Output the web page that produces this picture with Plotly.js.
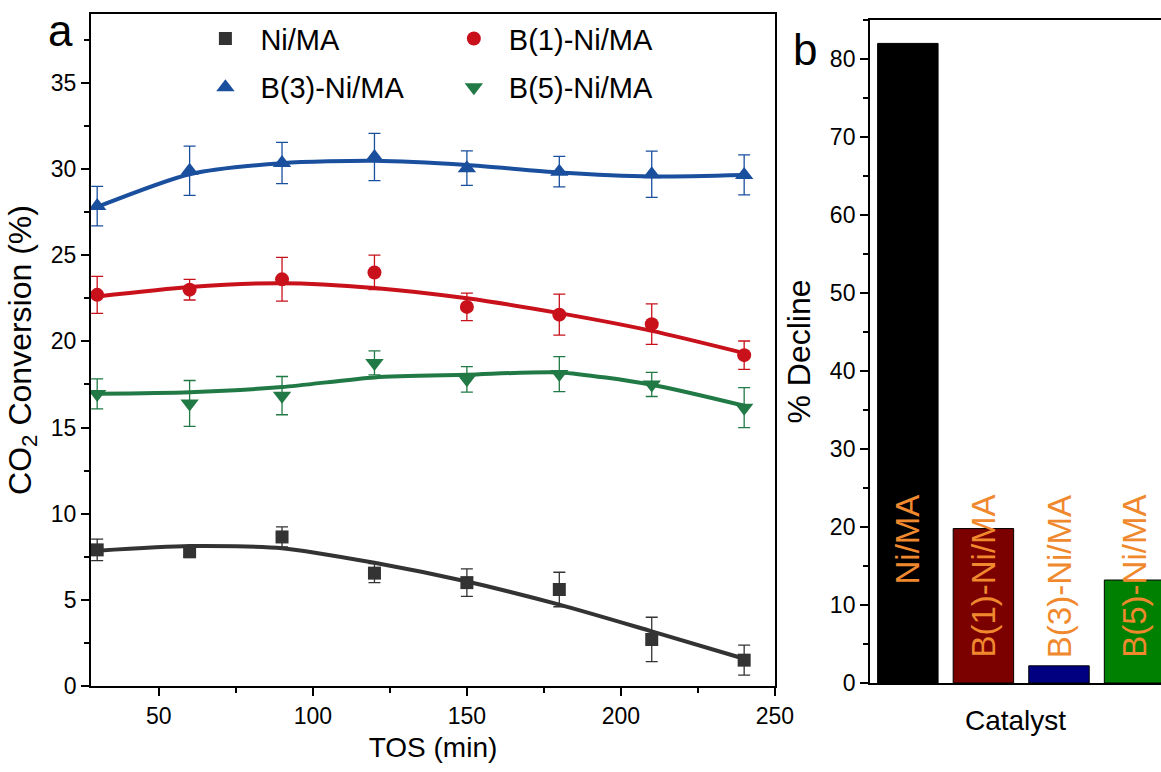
<!DOCTYPE html>
<html><head><meta charset="utf-8">
<script src="https://cdn.plot.ly/plotly-3.0.1.min.js"></script>
<style>html,body{margin:0;padding:0;background:#fff}#chart{width:1161px;height:772px}</style>
</head><body><div id="chart"></div>
<script>
// ---- Panel a data ----
const tos = [30, 60, 90, 120, 150, 180, 210, 240];
const niMA = [7.9, 7.8, 8.65, 6.55, 6.0, 5.6, 2.7, 1.5];
const niMAErr = [0.62, 0.35, 0.58, 0.55, 0.8, 1.0, 1.29, 0.87];
const niMAFit = [7.85, 8.12, 8.0, 7.15, 6.06, 4.72, 3.17, 1.58];
const b1 = [22.7, 23.0, 23.6, 24.0, 22.0, 21.55, 21.0, 19.2];
const b1Err = [1.07, 0.6, 1.27, 1.0, 0.8, 1.19, 1.18, 0.82];
const b1Fit = [22.6, 23.15, 23.38, 23.1, 22.5, 21.64, 20.61, 19.32];
const b3 = [27.85, 29.9, 30.35, 30.7, 30.05, 29.85, 29.7, 29.66];
const b3Err = [1.15, 1.43, 1.2, 1.37, 1.0, 0.89, 1.34, 1.16];
const b3Fit = [27.8, 29.7, 30.34, 30.48, 30.24, 29.8, 29.57, 29.66];
const b5 = [16.95, 16.4, 16.85, 18.75, 17.8, 18.1, 17.5, 16.15];
const b5Err = [0.87, 1.33, 1.11, 0.7, 0.74, 1.02, 0.7, 1.16];
const b5Fit = [16.96, 17.05, 17.35, 17.91, 18.06, 18.2, 17.48, 16.26];
const seriesNames = ['Ni/MA', 'B(1)-Ni/MA', 'B(3)-Ni/MA', 'B(5)-Ni/MA'];

// ---- Panel b data ----
const catalysts = ['Ni/MA', 'B(1)-Ni/MA', 'B(3)-Ni/MA', 'B(5)-Ni/MA'];
const decline = [82.0, 19.8, 2.2, 13.2];
const labelTop = 24.4;

const FONT = 'Arial, "Liberation Sans", sans-serif';
const cBlack = '#333333', cRed = '#c8111b', cBlue = '#1a4f9e', cGreen = '#217a45';

function fitTrace(y, color) {
  return {x: tos, y: y, mode: 'lines', line: {color: color, width: 4, shape: 'spline', smoothing: 0.7},
          showlegend: false, hoverinfo: 'skip', xaxis: 'x', yaxis: 'y'};
}
function ptTrace(name, y, err, color, symbol, size, legend) {
  return {x: tos, y: y, name: name, mode: 'markers', legend: legend, legendgroup: name,
          marker: {color: color, symbol: symbol, size: size},
          error_y: {type: 'data', array: err, visible: true, color: color, thickness: 1.3, width: 6},
          xaxis: 'x', yaxis: 'y'};
}

const traces = [
  fitTrace(niMAFit, cBlack), fitTrace(b1Fit, cRed), fitTrace(b3Fit, cBlue), fitTrace(b5Fit, cGreen),
  ptTrace(seriesNames[0], niMA, niMAErr, cBlack, 'square', 13, 'legend'),
  ptTrace(seriesNames[2], b3, b3Err, cBlue, 'triangle-up', 16, 'legend'),
  ptTrace(seriesNames[1], b1, b1Err, cRed, 'circle', 14, 'legend2'),
  ptTrace(seriesNames[3], b5, b5Err, cGreen, 'triangle-down', 16, 'legend2'),
  {type: 'bar', x: catalysts, y: decline, width: 0.8, xaxis: 'x2', yaxis: 'y2', showlegend: false,
   marker: {color: ['#000000', '#7b0000', '#000080', '#008000'], line: {color: '#000', width: 1}}}
];

const annotations = catalysts.map(c => ({
  x: c, y: labelTop, xref: 'x2', yref: 'y2', text: c, textangle: -90, showarrow: false,
  xanchor: 'center', yanchor: 'top', font: {family: FONT, size: 33, color: '#f0892e'}
}));
annotations.push({x: 0.040, y: 0.995, xref: 'paper', yref: 'paper', text: 'a', showarrow: false,
  xanchor: 'left', yanchor: 'top', font: {family: FONT, size: 44, color: '#000'}});
annotations.push({x: 0.681, y: 0.97, xref: 'paper', yref: 'paper', text: 'b', showarrow: false,
  xanchor: 'left', yanchor: 'top', font: {family: FONT, size: 44, color: '#000'}});

const axBase = {showline: true, linecolor: '#000', linewidth: 2, ticks: 'outside', tickcolor: '#000',
  tickwidth: 2, showgrid: false, zeroline: false, automargin: false,
  tickfont: {family: FONT, size: 23, color: '#000'}};

const legBase = {yanchor: 'top', xanchor: 'left', bgcolor: 'rgba(0,0,0,0)',
  font: {family: FONT, size: 29, color: '#000'}, itemwidth: 60, tracegroupgap: 8};

const layout = {
  width: 1161, height: 772, margin: {l: 0, r: 0, t: 0, b: 0},
  paper_bgcolor: '#fff', plot_bgcolor: '#fff', font: {family: FONT, color: '#000'},
  xaxis: Object.assign({}, axBase, {domain: [0.0784, 0.6675], range: [28, 250], mirror: true,
    dtick: 50, ticklen: 8, minor: {dtick: 25, ticks: 'outside', ticklen: 5, tickcolor: '#000', tickwidth: 2},
    title: {text: 'TOS (min)', font: {family: FONT, size: 28}, standoff: 10}, anchor: 'y'}),
  yaxis: Object.assign({}, axBase, {domain: [0.1114, 0.9819], range: [0, 39], mirror: true,
    dtick: 5, ticklen: 8, minor: {dtick: 2.5, ticks: 'outside', ticklen: 5, tickcolor: '#000', tickwidth: 2},
    title: {text: 'CO<sub>2</sub> Conversion (%)', font: {family: FONT, size: 32}, standoff: 10}, anchor: 'x'}),
  xaxis2: Object.assign({}, axBase, {domain: [0.7494, 1.0], range: [-0.5, 3.35], mirror: true,
    ticks: '', showticklabels: false,
    title: {text: 'Catalyst', font: {family: FONT, size: 28}, standoff: 26}, anchor: 'y2'}),
  yaxis2: Object.assign({}, axBase, {domain: [0.1153, 0.9741], range: [0, 85], mirror: false,
    dtick: 10, ticklen: 8, minor: {dtick: 5, ticks: 'outside', ticklen: 5, tickcolor: '#000', tickwidth: 2},
    title: {text: '% Decline', font: {family: FONT, size: 32}, standoff: 10}, anchor: 'x2'}),
  legend: Object.assign({}, legBase, {x: 0.164, y: 0.983}),
  legend2: Object.assign({}, legBase, {x: 0.378, y: 0.983}),
  annotations: annotations,
  showlegend: true
};

Plotly.newPlot('chart', traces, layout, {displayModeBar: false, staticPlot: true});
</script></body></html>
